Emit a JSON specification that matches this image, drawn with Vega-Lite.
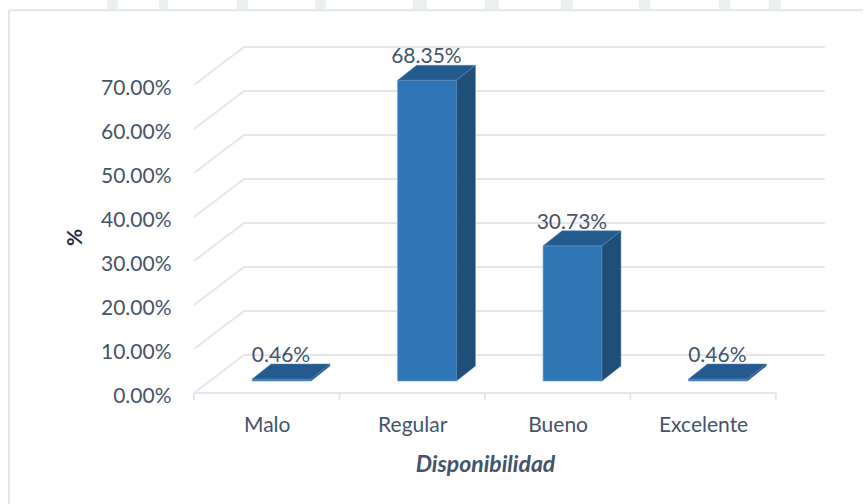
{
  "$schema": "https://vega.github.io/schema/vega-lite/v6.json",
  "width": 640, "height": 352,
  "autosize": "none",
  "padding": {"left": 194, "top": 41, "right": 30, "bottom": 111},
  "background": "#ffffff",
  "view": {"stroke": null},
  "datasets": {
    "barras": [
      {"categoria": "Malo", "valor": 0.46},
      {"categoria": "Regular", "valor": 68.35},
      {"categoria": "Bueno", "valor": 30.73},
      {"categoria": "Excelente", "valor": 0.46}
    ],
    "niveles": [{"nivel": 0},{"nivel": 10},{"nivel": 20},{"nivel": 30},{"nivel": 40},{"nivel": 50},{"nivel": 60},{"nivel": 70}],
    "cortes": [{"corte": 0},{"corte": 1},{"corte": 2},{"corte": 3},{"corte": 4}],
    "fondo": [
      {"desde": -0.598, "hasta": -0.522},
      {"desde": -0.241, "hasta": -0.179},
      {"desde": 0.296, "hasta": 0.371},
      {"desde": 0.832, "hasta": 0.907},
      {"desde": 1.505, "hasta": 1.601},
      {"desde": 2.0, "hasta": 2.096},
      {"desde": 2.522, "hasta": 2.605},
      {"desde": 3.058, "hasta": 3.134},
      {"desde": 3.608, "hasta": 3.684},
      {"desde": 3.952, "hasta": 4.034}
    ]
  },
  "encoding": {
    "x": {"type": "quantitative", "scale": {"domain": [0, 4.4], "nice": false, "zero": false}},
    "y": {"type": "quantitative", "scale": {"domain": [0, 80], "nice": false, "zero": false}}
  },
  "layer": [
    {
      "data": {"name": "fondo"},
      "mark": {"type": "rect", "fill": "#e9f0ed"},
      "encoding": {
        "x": {"field": "desde", "type": "quantitative"},
        "x2": {"field": "hasta"},
        "y": {"datum": 87.2, "type": "quantitative"},
        "y2": {"datum": 89.6}
      }
    },
    {
      "data": {"values": [{"borde": 1}]},
      "mark": {"type": "rule", "color": "#e1e6ed", "strokeWidth": 2},
      "encoding": {
        "x": {"datum": -1.272, "type": "quantitative"},
        "x2": {"datum": 4.6},
        "y": {"datum": 87, "type": "quantitative"}
      }
    },
    {
      "data": {"values": [{"borde": 1}]},
      "mark": {"type": "rule", "color": "#e1e6ed", "strokeWidth": 2},
      "encoding": {
        "x": {"datum": -1.272, "type": "quantitative"},
        "y": {"datum": 87, "type": "quantitative"},
        "y2": {"datum": -30}
      }
    },
    {
      "data": {"name": "niveles"},
      "transform": [{"calculate": "datum.nivel + 8.64", "as": "fondo"}],
      "mark": {"type": "rule", "color": "#e3e7ed", "strokeWidth": 2},
      "encoding": {
        "x": {"datum": 0, "type": "quantitative", "axis": {"values": [0.5, 1.5, 2.5, 3.5], "labelExpr": "['Malo','Regular','Bueno','Excelente'][floor(datum.value)]", "ticks": false, "domain": false, "grid": false, "labelFont": "Lato", "labelFontSize": 21, "labelColor": "#44546a", "labelPadding": 21, "labelAngle": 0, "title": "Disponibilidad", "titleFont": "Lato", "titleFontSize": 23, "titleFontWeight": "bold", "titleFontStyle": "italic", "titleColor": "#44546a", "titleX": 291, "titleY": 71, "titleBaseline": "middle"}},
        "x2": {"datum": 0.344},
        "y": {"field": "nivel", "type": "quantitative", "axis": {"values": [0,10,20,30,40,50,60,70], "labelExpr": "format(datum.value, '.2f') + '%'", "ticks": false, "domain": false, "grid": false, "labelFont": "Lato", "labelFontSize": 21, "labelColor": "#44546a", "labelPadding": 23, "labelOffset": 3, "title": "%", "titleFont": "Lato", "titleFontSize": 21, "titleFontWeight": "bold", "titleColor": "#1f2d40", "titleX": -109, "titleY": 196, "titleAngle": -90}},
        "y2": {"field": "fondo"}
      }
    },
    {
      "data": {"name": "niveles"},
      "transform": [{"calculate": "datum.nivel + 8.64", "as": "fondo"}],
      "mark": {"type": "rule", "color": "#e3e7ed", "strokeWidth": 2},
      "encoding": {
        "x": {"datum": 0.344, "type": "quantitative"},
        "x2": {"datum": 4.337},
        "y": {"field": "fondo", "type": "quantitative"}
      }
    },
    {
      "data": {"name": "cortes"},
      "mark": {"type": "rule", "color": "#e3e7ed", "strokeWidth": 2},
      "encoding": {
        "x": {"field": "corte", "type": "quantitative"},
        "y": {"datum": 0, "type": "quantitative"},
        "y2": {"datum": -1.6}
      }
    },
    {
      "data": {"name": "cortes"},
      "mark": {"type": "rule", "color": "#e3e7ed", "strokeWidth": 2},
      "encoding": {
        "x": {"datum": 0, "type": "quantitative"},
        "x2": {"datum": 4},
        "y": {"datum": 0, "type": "quantitative"}
      }
    },
    {
      "data": {"name": "barras"},
      "transform": [
        {"calculate": "indexof(['Malo','Regular','Bueno','Excelente'], datum.categoria)", "as": "i"},
        {"calculate": "datum.i + 0.4", "as": "x0"},
        {"calculate": "datum.i + 0.805", "as": "x1"},
        {"calculate": "2.727", "as": "base"},
        {"calculate": "2.727 + datum.valor", "as": "tope"}
      ],
      "mark": {"type": "rect", "fill": "#2e75b6", "stroke": "#6f9fcf", "strokeWidth": 0.7},
      "encoding": {
        "x": {"field": "x0", "type": "quantitative"},
        "x2": {"field": "x1"},
        "y": {"field": "base", "type": "quantitative"},
        "y2": {"field": "tope"}
      }
    },
    {
      "data": {"name": "barras"},
      "transform": [
        {"calculate": "indexof(['Malo','Regular','Bueno','Excelente'], datum.categoria)", "as": "i"},
        {"calculate": "[0,1]", "as": "lado"},
        {"flatten": ["lado"]},
        {"calculate": "datum.i + 0.805 + 0.13 * datum.lado", "as": "xs"},
        {"calculate": "2.727 + 3.41 * datum.lado", "as": "ys0"},
        {"calculate": "2.727 + datum.valor + 3.41 * datum.lado", "as": "ys1"}
      ],
      "mark": {"type": "area", "fill": "#1f4e79", "stroke": "#5b88b3", "strokeWidth": 0.5},
      "encoding": {
        "x": {"field": "xs", "type": "quantitative"},
        "y": {"field": "ys0", "type": "quantitative"},
        "y2": {"field": "ys1"},
        "detail": {"field": "categoria"}
      }
    },
    {
      "data": {"name": "barras"},
      "transform": [
        {"calculate": "indexof(['Malo','Regular','Bueno','Excelente'], datum.categoria)", "as": "i"},
        {"calculate": "[0,1]", "as": "lado"},
        {"flatten": ["lado"]},
        {"calculate": "2.727 + datum.valor + 3.41 * datum.lado", "as": "yt"},
        {"calculate": "datum.i + 0.4 + 0.13 * datum.lado", "as": "xt0"},
        {"calculate": "datum.i + 0.805 + 0.13 * datum.lado", "as": "xt1"}
      ],
      "mark": {"type": "area", "orient": "horizontal", "fill": "#255a8f", "stroke": "#5b88b3", "strokeWidth": 0.5},
      "encoding": {
        "y": {"field": "yt", "type": "quantitative"},
        "x": {"field": "xt0", "type": "quantitative"},
        "x2": {"field": "xt1"},
        "detail": {"field": "categoria"}
      }
    },
    {
      "data": {"name": "barras"},
      "transform": [
        {"calculate": "indexof(['Malo','Regular','Bueno','Excelente'], datum.categoria)", "as": "i"},
        {"calculate": "datum.i + 0.598", "as": "xl"},
        {"calculate": "datum.valor + 2.727 + 3.41", "as": "yl"},
        {"calculate": "format(datum.valor, '.2f') + '%'", "as": "etiqueta"}
      ],
      "mark": {"type": "text", "font": "Lato", "fontSize": 21, "color": "#44546a", "baseline": "bottom", "dy": 2},
      "encoding": {
        "x": {"field": "xl", "type": "quantitative"},
        "y": {"field": "yl", "type": "quantitative"},
        "text": {"field": "etiqueta", "type": "nominal"}
      }
    }
  ]
}
